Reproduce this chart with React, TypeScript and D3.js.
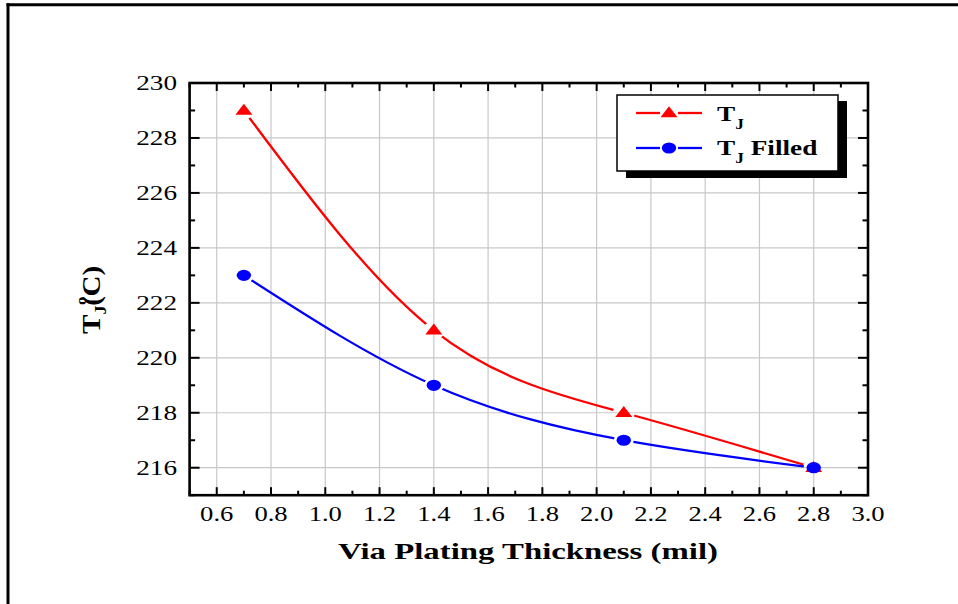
import React from "react";
import * as d3 from "d3";

const thickness = [0.7, 1.4, 2.1, 2.8];
const tj = [229, 221, 218, 216];
const tjFilled = [223, 219, 217, 216];
const xMajor = [0.6, 0.8, 1.0, 1.2, 1.4, 1.6, 1.8, 2.0, 2.2, 2.4, 2.6, 2.8, 3.0];
const yMajor = [216, 218, 220, 222, 224, 226, 228, 230];
const xTitle = "Via Plating Thickness (mil)";
const seriesNames = ["T", "T"];

const W = 958, H = 604;
const L = 189.6, R = 868, T = 83, B = 495.2;
const FONT = "'Liberation Serif', 'Times New Roman', serif";

const x = d3.scaleLinear().domain([0.5, 3.0]).range([L, R]);
const y = d3.scaleLinear().domain([215, 230]).range([B, T]);
const fmt = d3.format(".1f");

const xMinor = d3.range(0.5, 3.0001, 0.1).map((v) => +v.toFixed(2)).filter((v) => !xMajor.some((m) => Math.abs(m - v) < 1e-6));
const yMinor = d3.range(215, 230.001, 1).filter((v) => !yMajor.includes(v));

const line = d3
  .line<number>()
  .x((_, i) => x(thickness[i]))
  .y((d) => y(d))
  .curve(d3.curveNatural);

function STxt({ x: tx, y: ty, sx, children, ...rest }: any) {
  return (
    <g transform={`translate(${tx},${ty}) scale(${sx},1)`}>
      <text fontFamily={FONT} {...rest}>
        {children}
      </text>
    </g>
  );
}

function Tri({ cx, cy }: { cx: number; cy: number }) {
  const w = 8.5, h = 11;
  return <path d={`M${cx},${cy - h * 0.62}L${cx + w},${cy + h * 0.38}L${cx - w},${cy + h * 0.38}Z`} fill="#ff0000" />;
}
function Dot({ cx, cy }: { cx: number; cy: number }) {
  return <ellipse cx={cx} cy={cy} rx={7.2} ry={5.6} fill="#0000ff" />;
}

export default function App() {
  const tk = { stroke: "#000", strokeWidth: 2 };
  return (
    <svg width={W} height={H} style={{ position: "absolute", left: 0, top: 0, display: "block", background: "#fff" }}>
      <defs>
        <mask id="gapR" maskUnits="userSpaceOnUse" x={0} y={0} width={W} height={H}>
          <rect x={0} y={0} width={W} height={H} fill="#fff" />
          {thickness.map((t, i) => (
            <ellipse key={i} cx={x(t)} cy={y(tj[i])} rx={11} ry={9} fill="#000" />
          ))}
        </mask>
        <mask id="gapB" maskUnits="userSpaceOnUse" x={0} y={0} width={W} height={H}>
          <rect x={0} y={0} width={W} height={H} fill="#fff" />
          {thickness.map((t, i) => (
            <ellipse key={i} cx={x(t)} cy={y(tjFilled[i])} rx={10} ry={8} fill="#000" />
          ))}
        </mask>
      </defs>

      {/* outer frame */}
      <line x1={6.5} x2={W} y1={4.7} y2={4.7} stroke="#000" strokeWidth={3} />
      <line x1={8} x2={8} y1={3.2} y2={H} stroke="#000" strokeWidth={3} />

      {/* grid */}
      {xMajor.filter((v) => v < 3).map((v) => (
        <line key={"gx" + v} x1={x(v)} x2={x(v)} y1={T} y2={B} stroke="#c8c8c8" strokeWidth={1.2} />
      ))}
      {yMajor.filter((v) => v < 230).map((v) => (
        <line key={"gy" + v} x1={L} x2={R} y1={y(v)} y2={y(v)} stroke="#c8c8c8" strokeWidth={1.2} />
      ))}

      {/* ticks */}
      {xMajor.map((v) => (
        <g key={"tx" + v}>
          <line x1={x(v)} x2={x(v)} y1={B} y2={B - 8} {...tk} />
          <line x1={x(v)} x2={x(v)} y1={T} y2={T + 8} {...tk} />
        </g>
      ))}
      {xMinor.map((v) => (
        <g key={"mx" + v}>
          <line x1={x(v)} x2={x(v)} y1={B} y2={B - 4.5} {...tk} />
          <line x1={x(v)} x2={x(v)} y1={T} y2={T + 4.5} {...tk} />
        </g>
      ))}
      {yMajor.map((v) => (
        <g key={"ty" + v}>
          <line x1={L} x2={L + 10} y1={y(v)} y2={y(v)} {...tk} />
          <line x1={R} x2={R - 10} y1={y(v)} y2={y(v)} {...tk} />
        </g>
      ))}
      {yMinor.map((v) => (
        <g key={"my" + v}>
          <line x1={L} x2={L + 5.5} y1={y(v)} y2={y(v)} {...tk} />
          <line x1={R} x2={R - 5.5} y1={y(v)} y2={y(v)} {...tk} />
        </g>
      ))}

      {/* axes box */}
      <rect x={L} y={T} width={R - L} height={B - T} fill="none" stroke="#000" strokeWidth={2.6} />

      {/* tick labels */}
      {xMajor.map((v) => (
        <STxt key={"lx" + v} x={x(v)} y={521} sx={1.33} fontSize={20} textAnchor="middle" fill="#000">
          {fmt(v)}
        </STxt>
      ))}
      {yMajor.map((v) => (
        <STxt key={"ly" + v} x={177} y={y(v) + 6.8} sx={1.36} fontSize={20} textAnchor="end" fill="#000">
          {String(v)}
        </STxt>
      ))}

      {/* axis titles */}
      <text x={338} y={559} fontFamily={FONT} fontWeight="bold" fontSize={23} textLength={380} lengthAdjust="spacingAndGlyphs" fill="#000">
        {xTitle}
      </text>
      <g transform="translate(100,334) rotate(-90) scale(1.12,1)">
        <text x={0} y={0} fontFamily={FONT} fontWeight="bold" fontSize={26} fill="#000">
          T
          <tspan fontSize={16} dy={6}>J</tspan>
          <tspan dy={-6}>(</tspan>
          <tspan fontSize={15} dy={-14} dx={-8}>o</tspan>
          <tspan dy={14}>C)</tspan>
        </text>
      </g>

      {/* series */}
      <path d={line(tj) || ""} fill="none" stroke="#ff0000" strokeWidth={2.3} mask="url(#gapR)" />
      <path d={line(tjFilled) || ""} fill="none" stroke="#0000ff" strokeWidth={2.3} mask="url(#gapB)" />
      {thickness.map((t, i) => (
        <Tri key={"r" + i} cx={x(t)} cy={y(tj[i])} />
      ))}
      {thickness.map((t, i) => (
        <Dot key={"b" + i} cx={x(t)} cy={y(tjFilled[i])} />
      ))}

      {/* legend */}
      <rect x={626} y={101} width={221} height={77} fill="#000" />
      <rect x={617} y={95} width={221} height={76} fill="#fff" stroke="#000" strokeWidth={1.5} />
      <line x1={636} x2={660} y1={113} y2={113} stroke="#ff0000" strokeWidth={2.3} />
      <line x1={678} x2={702} y1={113} y2={113} stroke="#ff0000" strokeWidth={2.3} />
      <Tri cx={669} cy={113} />
      <line x1={636} x2={660} y1={148} y2={148} stroke="#0000ff" strokeWidth={2.3} />
      <line x1={678} x2={702} y1={148} y2={148} stroke="#0000ff" strokeWidth={2.3} />
      <Dot cx={669} cy={148} />
      <STxt x={717} y={121} sx={1.24} fontSize={22} fontWeight="bold" fill="#000">
        {seriesNames[0]}
        <tspan fontSize={14} dy={8}>J</tspan>
      </STxt>
      <STxt x={717} y={155} sx={1.24} fontSize={22} fontWeight="bold" fill="#000">
        {seriesNames[1]}
        <tspan fontSize={14} dy={8}>J</tspan>
        <tspan dy={-8}> Filled</tspan>
      </STxt>
    </svg>
  );
}
